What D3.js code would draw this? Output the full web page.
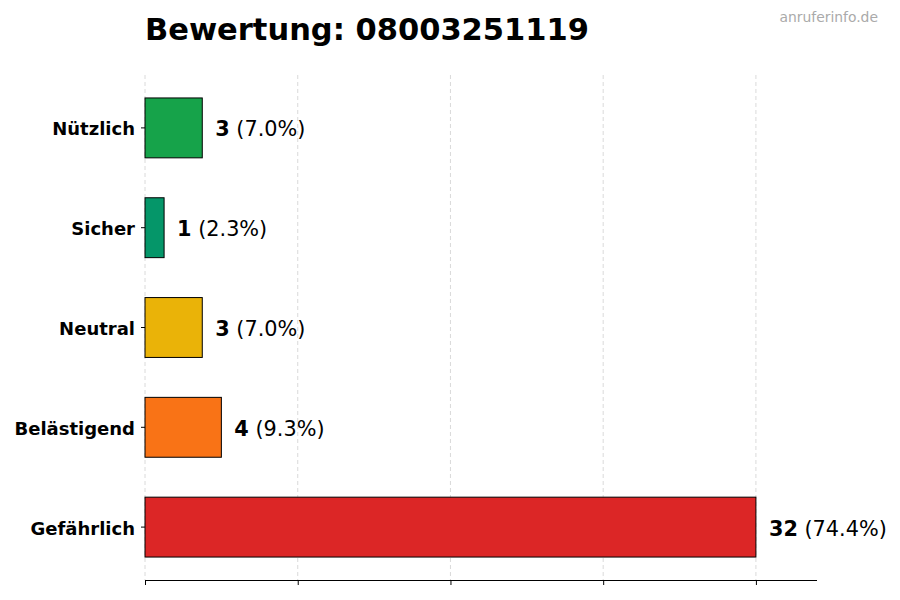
<!DOCTYPE html>
<html>
<head>
<meta charset="utf-8">
<script src="https://cdn.jsdelivr.net/npm/d3@7"></script>
<style>
  body { margin: 0; background: #fff; }
  text { font-family: "DejaVu Sans", sans-serif; }
</style>
</head>
<body>
<svg id="chart" width="900" height="600"></svg>
<script>
// Rating categories, top to bottom as shown
var categories = ["Nützlich", "Sicher", "Neutral", "Belästigend", "Gefährlich"];
var counts = [3, 1, 3, 4, 32];
var colors = ["#16a34a", "#059669", "#eab308", "#f97316", "#dc2626"];
var xTicks = [0, 8, 16, 24, 32];
var title = "Bewertung: 08003251119";

var total = d3.sum(counts);

// Plot area
var plotLeft = 145, plotRight = 817, plotTop = 75, plotBottom = 580;

var svg = d3.select("#chart");

var xScale = d3.scaleLinear()
    .domain([0, d3.max(counts) * 1.1])
    .range([plotLeft, plotRight]);

// index 0 at the bottom (last category)
var yScale = d3.scaleLinear()
    .domain([-0.53, categories.length - 1 + 0.53])
    .range([plotBottom, plotTop]);

function yPos(i) {
    return yScale(categories.length - 1 - i);
}

var barH = Math.abs(yScale(0.3) - yScale(-0.3));

// Grid lines
svg.append("g")
    .selectAll("line")
    .data(xTicks)
    .enter()
    .append("line")
    .attr("x1", function (d) { return xScale(d); })
    .attr("x2", function (d) { return xScale(d); })
    .attr("y1", plotTop)
    .attr("y2", plotBottom)
    .attr("stroke", "#d0d0d0")
    .attr("stroke-width", 0.8)
    .attr("stroke-dasharray", "4,3");

// Bars
svg.append("g")
    .selectAll("rect")
    .data(counts)
    .enter()
    .append("rect")
    .attr("x", xScale(0))
    .attr("y", function (d, i) { return yPos(i) - barH / 2; })
    .attr("width", function (d) { return xScale(d) - xScale(0); })
    .attr("height", barH)
    .attr("fill", function (d, i) { return colors[i]; })
    .attr("stroke", "#000")
    .attr("stroke-width", 1);

// Value labels
var labels = svg.append("g")
    .selectAll("text")
    .data(counts)
    .enter()
    .append("text")
    .attr("x", function (d) { return xScale(d) + 13; })
    .attr("y", function (d, i) { return yPos(i) + 1; })
    .attr("dy", "0.36em")
    .attr("font-size", "20.8px")
    .attr("fill", "#000");

labels.append("tspan")
    .attr("font-weight", "bold")
    .text(function (d) { return d; });
labels.append("tspan")
    .text(function (d) { return " (" + (d / total * 100).toFixed(1) + "%)"; });

// Bottom axis
var xAxis = d3.axisBottom(xScale)
    .tickValues(xTicks)
    .tickFormat("")
    .tickSize(5);

var gx = svg.append("g")
    .attr("transform", "translate(0," + plotBottom + ")")
    .call(xAxis);
gx.select(".domain").attr("stroke", "#000").attr("stroke-width", 1.2)
    .attr("d", "M" + plotLeft + ",0.5H" + plotRight);
gx.selectAll(".tick line").attr("stroke", "#000").attr("stroke-width", 1);

// Category labels with small ticks
var gy = svg.append("g");
categories.forEach(function (c, i) {
    gy.append("line")
        .attr("x1", plotLeft - 4)
        .attr("x2", plotLeft)
        .attr("y1", yPos(i))
        .attr("y2", yPos(i))
        .attr("stroke", "#000")
        .attr("stroke-width", 1);
    gy.append("text")
        .attr("x", plotLeft - 10)
        .attr("y", yPos(i) + 1)
        .attr("dy", "0.36em")
        .attr("text-anchor", "end")
        .attr("font-size", "18px")
        .attr("font-weight", "bold")
        .text(c);
});

// Title
svg.append("text")
    .attr("x", plotLeft)
    .attr("y", 40)
    .attr("font-size", "30.5px")
    .attr("font-weight", "bold")
    .text(title);

// Watermark
svg.append("text")
    .attr("x", 878)
    .attr("y", 22)
    .attr("text-anchor", "end")
    .attr("font-size", "13.9px")
    .attr("fill", "#aaaaaa")
    .text("anruferinfo.de");
</script>
</body>
</html>
